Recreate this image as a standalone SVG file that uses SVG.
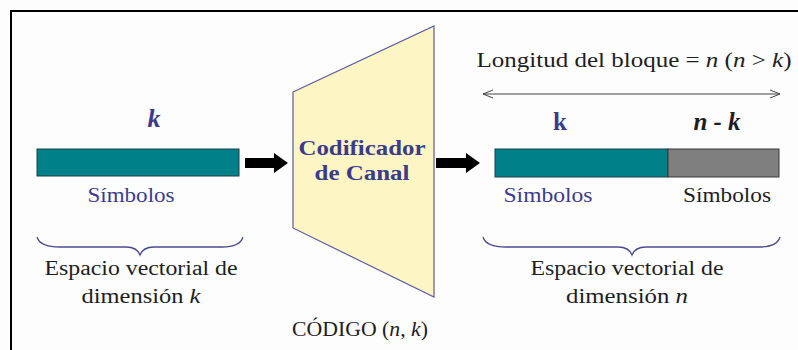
<svg xmlns="http://www.w3.org/2000/svg" width="798" height="350" viewBox="0 0 798 350">
  <style>
    .blue { fill: #3b3b8c; }
    .dark { fill: #1e1e1e; }
    .lbl { font-size: 20px; }
    .brace { fill: none; stroke: #4a4a8c; stroke-width: 1.3; }
    .teal { fill: #00818a; stroke: #1f3f44; stroke-width: 1; }
    .grey { fill: #7f7f7f; stroke: #3a3a3a; stroke-width: 1; }
    .block { fill: #000; }
  </style>
  <defs>
    <marker id="open-head" viewBox="0 0 12 10" refX="11" refY="5" markerWidth="12" markerHeight="10" markerUnits="userSpaceOnUse" orient="auto-start-reverse">
      <path d="M1,1 L11,5 L1,9" fill="none" stroke="#444" stroke-width="1"/>
    </marker>
  </defs>

  <rect width="798" height="350" fill="#fdfdfd"/>
  <!-- frame -->
  <rect x="11" y="11" width="800" height="360" fill="none" stroke="#000" stroke-width="2"/>

  <g font-family="'Liberation Serif', 'Times New Roman', serif">
    <!-- input word -->
    <g id="input-block">
      <text class="blue" x="154" y="127" font-size="26" font-weight="bold" font-style="italic" text-anchor="middle">k</text>
      <rect class="teal" x="37" y="149" width="202" height="27"/>
      <text class="blue lbl" x="131" y="202" text-anchor="middle" textLength="87" lengthAdjust="spacingAndGlyphs">Símbolos</text>
      <path class="brace" d="M37,237 Q40,247 60,247 L126,247 Q137,247 140,255 Q143,247 154,247 L222,247 Q240,247 243,237"/>
      <text class="dark lbl" x="141" y="275" text-anchor="middle" textLength="193" lengthAdjust="spacingAndGlyphs">Espacio vectorial de</text>
      <text class="dark lbl" x="141" y="303" text-anchor="middle" textLength="119" lengthAdjust="spacingAndGlyphs">dimensión <tspan font-style="italic">k</tspan></text>
    </g>

    <!-- channel encoder -->
    <g id="encoder">
      <polygon points="293,92 434,26 434,297 293,228" fill="#fdf6c4" stroke="#5a5aa2" stroke-width="1.2"/>
      <text class="blue" x="362" y="155" font-size="20" font-weight="bold" text-anchor="middle" textLength="127" lengthAdjust="spacingAndGlyphs">Codificador</text>
      <text class="blue" x="362" y="180" font-size="20" font-weight="bold" text-anchor="middle" textLength="95" lengthAdjust="spacingAndGlyphs">de Canal</text>
      <text class="dark lbl" x="360" y="336" text-anchor="middle" textLength="136" lengthAdjust="spacingAndGlyphs">CÓDIGO (<tspan font-style="italic">n</tspan>, <tspan font-style="italic">k</tspan>)</text>
    </g>

    <!-- output code word -->
    <g id="output-block">
      <text class="dark lbl" x="634" y="67" text-anchor="middle" textLength="315" lengthAdjust="spacingAndGlyphs">Longitud del bloque = <tspan font-style="italic">n</tspan>  (<tspan font-style="italic">n</tspan> &gt; <tspan font-style="italic">k</tspan>)</text>
      <text class="blue" x="560" y="130" font-size="25" font-weight="bold" text-anchor="middle">k</text>
      <text class="dark" x="717" y="130" font-size="25" font-weight="bold" font-style="italic" text-anchor="middle">n - k</text>
      <rect class="teal" x="495" y="149" width="173" height="28"/>
      <rect class="grey" x="668" y="149" width="111" height="28"/>
      <text class="blue lbl" x="548" y="202" text-anchor="middle" textLength="89" lengthAdjust="spacingAndGlyphs">Símbolos</text>
      <text class="dark lbl" x="727" y="202" text-anchor="middle" textLength="88" lengthAdjust="spacingAndGlyphs">Símbolos</text>
      <path class="brace" d="M483,237 Q486,247 506,247 L618,247 Q629,247 632,255 Q635,247 646,247 L759,247 Q777,247 780,237"/>
      <text class="dark lbl" x="627" y="275" text-anchor="middle" textLength="193" lengthAdjust="spacingAndGlyphs">Espacio vectorial de</text>
      <text class="dark lbl" x="627" y="303" text-anchor="middle" textLength="122" lengthAdjust="spacingAndGlyphs">dimensión <tspan font-style="italic">n</tspan></text>
    </g>
  </g>

  <!-- connectors -->
  <g id="connectors">
    <polygon class="block" points="245,158 274,158 274,153 288,163 274,173 274,168 245,168"/>
    <polygon class="block" points="436,158 466,158 466,153 480,163 466,173 466,168 436,168"/>
    <line x1="483" y1="94" x2="780" y2="94" stroke="#444" stroke-width="1" marker-start="url(#open-head)" marker-end="url(#open-head)"/>
  </g>
</svg>
